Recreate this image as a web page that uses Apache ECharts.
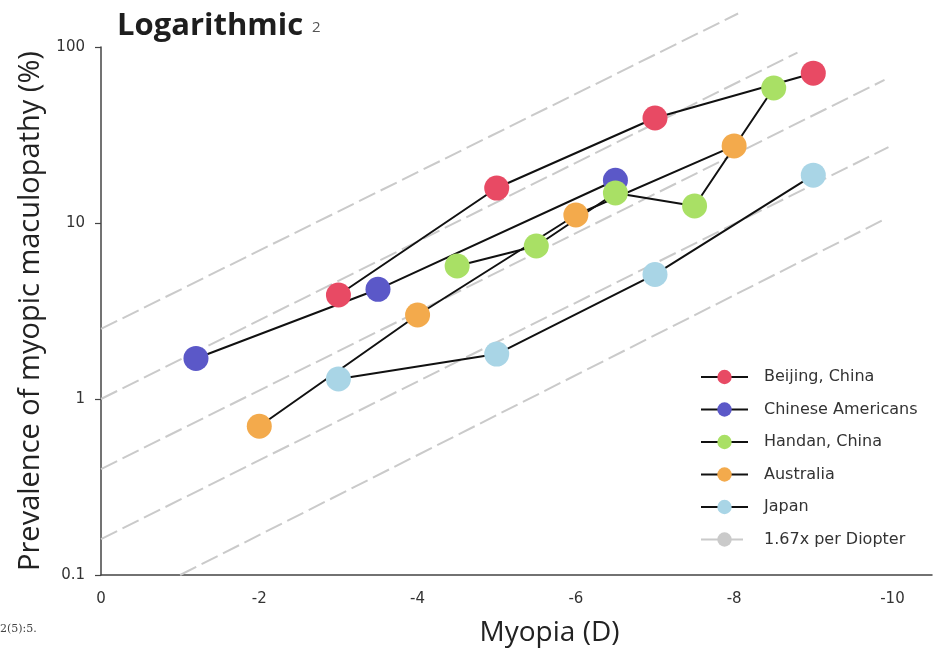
<!DOCTYPE html>
<html>
<head>
<meta charset="utf-8">
<script src="https://cdn.jsdelivr.net/npm/echarts@6/dist/echarts.min.js"></script>
<style>
html,body{margin:0;padding:0;background:#fff;}
#chart{width:933px;height:660px;}
</style>
</head>
<body>
<div id="chart"></div>
<script>
// ---- data ----
const seriesNames = ['Beijing, China', 'Chinese Americans', 'Handan, China', 'Australia', 'Japan'];
const refName = '1.67x per Diopter';

const beijingX = [-3, -5, -7, -9];
const beijingY = [3.9, 15.8, 39.5, 71];

const chineseAmericansX = [-1.2, -3.5, -6.5];
const chineseAmericansY = [1.7, 4.2, 17.5];

const handanX = [-4.5, -5.5, -6.5, -7.5, -8.5];
const handanY = [5.7, 7.4, 14.8, 12.5, 58.5];

const australiaX = [-2, -4, -6, -8];
const australiaY = [0.7, 3.0, 11.1, 27.4];

const japanX = [-3, -5, -7, -9];
const japanY = [1.3, 1.8, 5.1, 18.7];

// reference "1.67x per Diopter" dashed lines: start / end points
const refStartX = [0, 0, 0, 0, -1.0];
const refStartY = [2.5, 1.0, 0.4, 0.16, 0.1];
const refEndX = [-8.05, -8.8, -9.9, -9.95, -9.9];
const refEndY = [155, 93, 65, 27, 10.5];

const xTickValues = [0, -2, -4, -6, -8, -10];

// ---- styles ----
const colors = ['#e84a64', '#5b58c8', '#a9e065', '#f3aa4c', '#a9d5e6'];
const xs = [beijingX, chineseAmericansX, handanX, australiaX, japanX];
const ys = [beijingY, chineseAmericansY, handanY, australiaY, japanY];

const series = [];
for (let k = 0; k < refStartX.length; k++) {
  series.push({
    name: refName,
    type: 'line',
    data: [[refStartX[k], refStartY[k]], [refEndX[k], refEndY[k]]],
    symbol: 'none',
    clip: false,
    silent: true,
    z: 1,
    lineStyle: { color: '#cacaca', width: 2, type: [18, 6] },
    itemStyle: { color: '#cacaca' }
  });
}
seriesNames.forEach((n, i) => {
  series.push({
    name: n,
    type: 'line',
    data: xs[i].map((x, j) => [x, ys[i][j]]),
    symbol: 'circle',
    symbolSize: 25,
    z: 3,
    lineStyle: { color: '#111', width: 2 },
    itemStyle: { color: colors[i] }
  });
});

const chart = echarts.init(document.getElementById('chart'), null, { renderer: 'canvas' });
chart.setOption({
  animation: false,
  backgroundColor: '#fff',
  grid: { left: 101, right: 1, top: 47, bottom: 85, containLabel: false },
  xAxis: {
    type: 'value',
    inverse: true,
    min: -10.5,
    max: 0,
    name: 'Myopia (D)',
    nameLocation: 'middle',
    nameGap: 44,
    nameTextStyle: { fontFamily: 'Open Sans', fontSize: 28, color: '#222', padding: [0, 0, 0, 66] },
    splitLine: { show: false },
    axisLine: { lineStyle: { color: '#444', width: 1.5 } },
    axisTick: { show: false },
    axisLabel: {
      customValues: xTickValues,
      fontFamily: 'DejaVu Sans', fontSize: 15, color: '#333', margin: 17
    }
  },
  yAxis: {
    type: 'log',
    logBase: 10,
    min: 0.1,
    max: 100,
    name: 'Prevalence of myopic maculopathy (%)',
    nameLocation: 'middle',
    nameGap: 54,
    nameTextStyle: { fontFamily: 'Open Sans', fontSize: 29, color: '#222' },
    splitLine: { show: false },
    axisLine: { show: true, lineStyle: { color: '#444', width: 1.5 } },
    axisTick: { show: true, length: 6, lineStyle: { color: '#444', width: 1.2 } },
    minorTick: { show: false },
    axisLabel: {
      fontFamily: 'DejaVu Sans', fontSize: 15, color: '#333', margin: 16,
      formatter: v => String(v)
    }
  },
  legend: {
    orient: 'vertical',
    left: 695,
    top: 364,
    itemWidth: 47,
    itemHeight: 18,
    itemGap: 16.5,
    data: seriesNames.concat([refName]),
    textStyle: { fontFamily: 'DejaVu Sans', fontSize: 16, color: '#333', padding: [0, 0, 0, 11] }
  },
  graphic: [
    { type: 'text', left: 117, top: 11, style: { text: 'Logarithmic', font: 'bold 31px "Open Sans"', fill: '#1e1e1e' } },
    { type: 'text', left: 312, top: 20, style: { text: '2', font: '15px "Open Sans"', fill: '#555' } },
    { type: 'text', left: 0, top: 624, style: { text: '2(5):5.', font: '11px "DejaVu Serif"', fill: '#444' } }
  ],
  series: series
});
</script>
</body>
</html>
